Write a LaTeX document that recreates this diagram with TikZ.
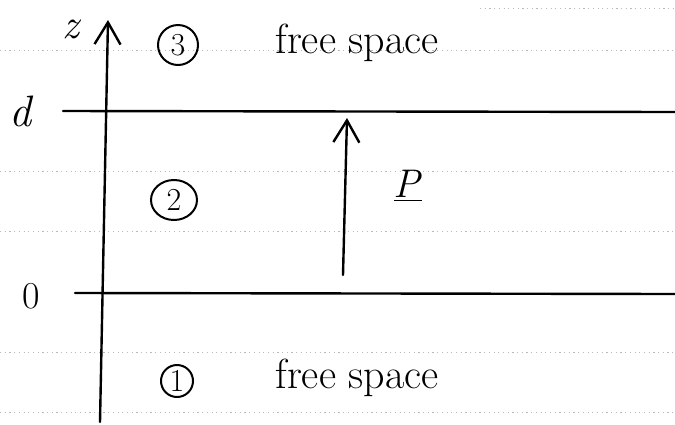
\documentclass[tikz,border=0pt]{standalone}
\usetikzlibrary{arrows.meta,shapes.geometric}
\usepackage{amsmath}

\tikzset{
  ink/.style={line width=2.4pt,line cap=round},
  rule/.style={gray!55,line width=0.6pt,dash pattern=on 1.2pt off 3.5pt},
  region/.style={circle,draw,line width=2pt,inner sep=0pt,font=\fontsize{32}{32}\selectfont},
  hand/.style={font=\fontsize{42}{44}\selectfont},
}

\begin{document}
\begin{tikzpicture}[x=1pt,y=-1pt,>={Straight Barb[length=22pt,width=26pt,line width=2.4pt]}]
\useasboundingbox (0,0) rectangle (675,424);
% faint ruled lines of the paper
\foreach \yy in {50,171,231,352,412}
  \draw[rule] (0,\yy) -- (675,\yy);
\draw[rule] (480,8) -- (675,8);
% z axis
\coordinate (zbot) at (100,422);
\coordinate (ztop) at (108,20);
\draw[ink,->] (zbot) -- (ztop);
\node[font=\fontsize{42}{42}\selectfont,inner sep=0pt,anchor=base] (zlab) at (72,38) {\textit{z}};
% interfaces z=d and z=0
\coordinate (dleft) at (63,111);
\coordinate (dright) at (675,112);
\draw[ink] (dleft) -- (dright);
\node[font=\fontsize{44}{44}\selectfont] (dlab) at (22,111) {\textit{d}};
\coordinate (oleft) at (75,293);
\coordinate (oright) at (675,294);
\draw[ink] (oleft) -- (oright);
\node[font=\fontsize{38}{38}\selectfont] (olab) at (31,296) {0};
% regions
\node[region,minimum size=40pt] (r3) at (178,45) {3};
\node[hand,anchor=base west] (free3) at (272,53) {free space};
\node[region,ellipse,minimum width=46pt,minimum height=40pt] (r2) at (174,200) {2};
\node[region,minimum size=32pt] (r1) at (177,381) {1};
\node[hand,anchor=base west] (free1) at (272,388) {free space};
% polarisation
\coordinate (pbot) at (343,275);
\coordinate (ptop) at (347,118);
\draw[ink,->] (pbot) -- (ptop);
\node[font=\fontsize{40}{40}\selectfont] (plab) at (408,186) {\underline{\textit{P}}};
\end{tikzpicture}
\end{document}
